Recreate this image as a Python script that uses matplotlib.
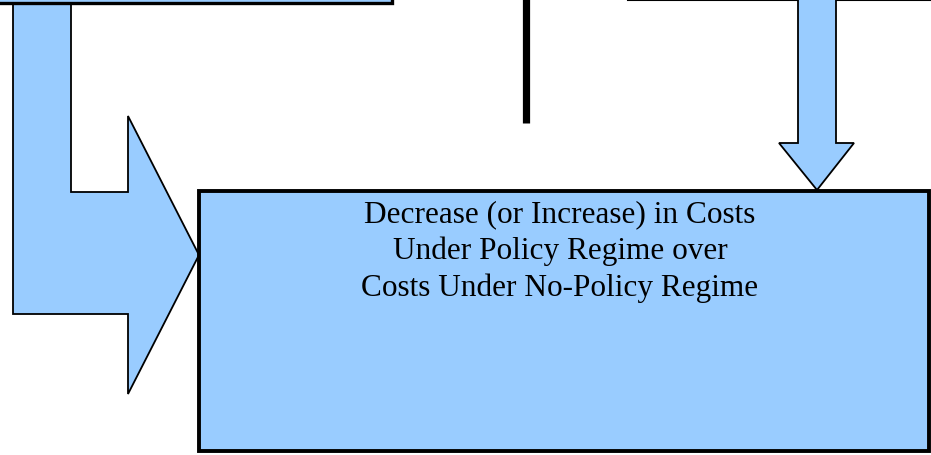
import matplotlib
matplotlib.use("Agg")
import matplotlib.pyplot as plt
from matplotlib.patches import Polygon, Rectangle

# Diagram content
box_text = ["Decrease (or Increase) in Costs",
            "Under Policy Regime over",
            "Costs Under No-Policy Regime"]

FILL = "#99CCFF"

# Shape outlines (pixel coordinates, y downwards)
bent_arrow = [(13, -5), (13, 315), (128, 315), (128, 395), (199, 256),
              (128, 117), (128, 193), (71, 193), (71, -5)]
down_arrow = [(798, -5), (798, 144), (779, 144), (817, 191), (854, 144),
              (836, 144), (836, -5)]
top_left_box = (-10, -20, 402, 23.5)   # x, y, w, h
main_box = (199, 192, 730, 260)

fig = plt.figure(figsize=(9.31, 4.56), dpi=100)
ax = fig.add_axes([0, 0, 1, 1])
ax.set_xlim(0, 931)
ax.set_ylim(456, 0)
ax.axis("off")

# top-left box
x, y, w, h = top_left_box
ax.add_patch(Rectangle((x, y), w, h, facecolor=FILL, edgecolor="black", lw=2.4, zorder=3))

# bent arrow
ax.add_patch(Polygon(bent_arrow, closed=True, facecolor=FILL, edgecolor="black", lw=1.3, zorder=2))

# middle thick line
ax.plot([526, 526], [0, 124], color="black", lw=5.2, solid_capstyle="butt", zorder=2)

# top-right line
ax.plot([628, 931], [0.5, 0.5], color="black", lw=1.5, zorder=2)

# down arrow
ax.add_patch(Polygon(down_arrow, closed=True, facecolor=FILL, edgecolor="black", lw=1.3, zorder=2))

# main box
x, y, w, h = main_box
ax.add_patch(Rectangle((x, y), w, h, facecolor=FILL, edgecolor="black", lw=2.8, zorder=4))

line_baselines = [222, 259, 296]
for t, yy in zip(box_text, line_baselines):
    ax.text(560, yy, t, ha="center", va="baseline", fontsize=22.5,
            family="Liberation Serif", color="black", zorder=5)

fig.savefig("out.png", dpi=100)
